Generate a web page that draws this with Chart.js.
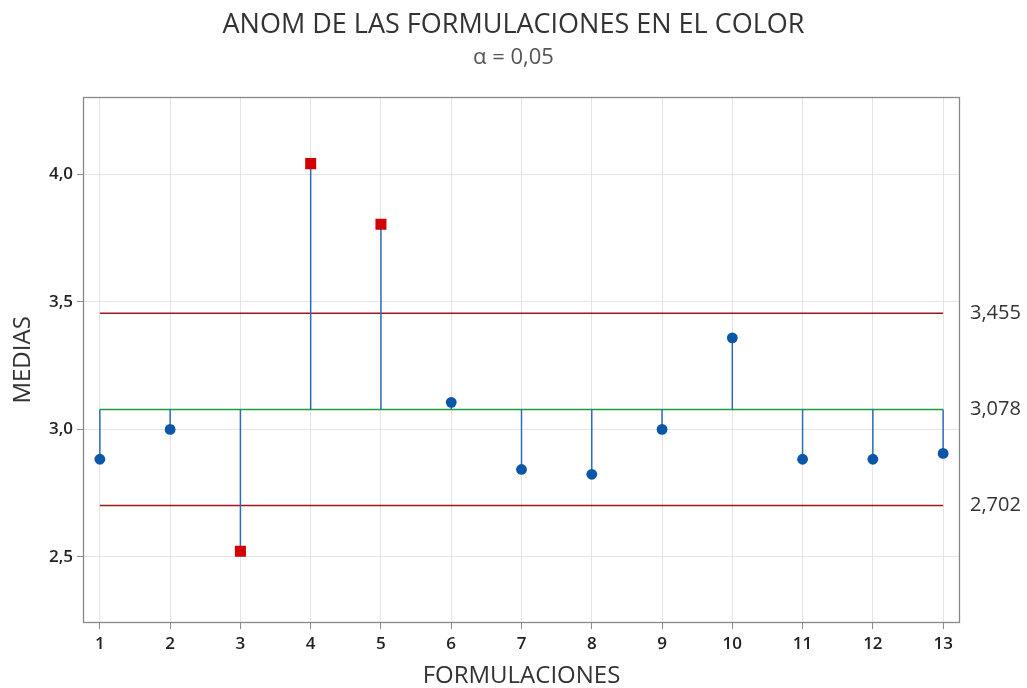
<!DOCTYPE html>
<html lang="es">
<head>
<meta charset="utf-8">
<title>ANOM de las formulaciones en el color</title>
<script src="https://cdn.jsdelivr.net/npm/chart.js@4/dist/chart.umd.min.js"></script>
<style>
  html, body { margin: 0; padding: 0; background: #ffffff; }
  #wrap { width: 1027px; height: 688px; }
</style>
</head>
<body>
<div id="wrap"><canvas id="anom" width="1027" height="688"></canvas></div>
<script>
// Formulaciones evaluadas y medias del color de cada una
const formulaciones = [1, 2, 3, 4, 5, 6, 7, 8, 9, 10, 11, 12, 13];
const medias = [2.883, 3.000, 2.522, 4.042, 3.804, 3.106, 2.843, 2.824, 3.000, 3.359, 2.883, 2.883, 2.906];

// Línea central y límites de decisión del ANOM (alfa = 0,05)
const lineaCentral = 3.078;
const limiteSuperior = 3.455;
const limiteInferior = 2.702;

// Marcas de los ejes
const ticksMedias = [2.5, 3.0, 3.5, 4.0];
const ticksLimites = [limiteInferior, lineaCentral, limiteSuperior];

const FONT = "'Open Sans', 'Noto Sans', sans-serif";
const coma = (v, d) => v.toFixed(d).replace('.', ',');

// Segmento horizontal de la primera a la última formulación
const tramo = (y) => [
  { x: formulaciones[0], y: y },
  { x: formulaciones[formulaciones.length - 1], y: y }
];

// Líneas verticales desde la línea central hasta cada media
const tallos = [];
formulaciones.forEach((f, i) => {
  tallos.push({ x: f, y: lineaCentral });
  tallos.push({ x: f, y: medias[i] });
  tallos.push({ x: f, y: null });
});

// Las medias fuera de los límites se marcan con un cuadrado rojo
const fuera = medias.map(m => m > limiteSuperior || m < limiteInferior);

// Marco completo del área de trazado
const marco = {
  id: 'marco',
  afterDraw(chart) {
    const { ctx, chartArea: a } = chart;
    const l = Math.round(a.left), t = Math.round(a.top);
    const r = Math.round(a.right), b = Math.round(a.bottom);
    ctx.save();
    ctx.strokeStyle = '#888888';
    ctx.lineWidth = 1.3;
    ctx.strokeRect(l + 0.5, t + 0.5, r - l - 1, b - t - 1);
    ctx.restore();
  }
};

const yMin = 2.241, yMax = 4.304;

new Chart(document.getElementById('anom'), {
  type: 'line',
  data: {
    datasets: [
      {
        label: 'Medias',
        data: formulaciones.map((f, i) => ({ x: f, y: medias[i] })),
        showLine: false,
        pointStyle: fuera.map(o => o ? 'rect' : 'circle'),
        pointRadius: fuera.map(o => o ? 7.8 : 5.4),
        pointBackgroundColor: fuera.map(o => o ? '#d40000' : '#0a56a8'),
        pointBorderColor: fuera.map(o => o ? '#d40000' : '#0a56a8'),
        pointBorderWidth: 0,
        order: 0
      },
      {
        label: 'Tallos',
        data: tallos,
        borderColor: '#2a6db6',
        borderWidth: 1.5,
        pointRadius: 0,
        spanGaps: false,
        order: 1
      },
      {
        label: 'Línea central',
        data: tramo(lineaCentral),
        borderColor: '#1f9a3a',
        borderWidth: 1.5,
        pointRadius: 0,
        order: 2
      },
      {
        label: 'Límite superior',
        data: tramo(limiteSuperior),
        borderColor: '#a01818',
        borderWidth: 1.5,
        pointRadius: 0,
        order: 3
      },
      {
        label: 'Límite inferior',
        data: tramo(limiteInferior),
        borderColor: '#a01818',
        borderWidth: 1.5,
        pointRadius: 0,
        order: 3
      }
    ]
  },
  options: {
    responsive: false,
    animation: false,
    layout: { padding: 0 },
    plugins: {
      legend: { display: false },
      tooltip: { enabled: false },
      title: {
        display: true,
        text: 'ANOM DE LAS FORMULACIONES EN EL COLOR',
        color: '#333333',
        font: { family: FONT, size: 27, weight: 'normal' },
        padding: { top: 9, bottom: 3 }
      },
      subtitle: {
        display: true,
        text: 'α = 0,05',
        color: '#555555',
        font: { family: FONT, size: 22, weight: 'normal' },
        padding: { top: 0, bottom: 26 }
      }
    },
    scales: {
      x: {
        type: 'linear',
        position: 'bottom',
        min: 0.76,
        max: 13.24,
        afterBuildTicks: (axis) => { axis.ticks = formulaciones.map(v => ({ value: v })); },
        afterFit: (axis) => { axis.height = 65; },
        ticks: {
          color: '#222222',
          font: { family: FONT, size: 17, weight: '600' },
          padding: 5,
          maxRotation: 0,
          callback: (v) => String(v)
        },
        grid: { color: '#e4e4e4', tickColor: '#8a8a8a', tickLength: 6, lineWidth: 1 },
        border: { display: false },
        title: {
          display: true,
          text: 'FORMULACIONES',
          color: '#333333',
          font: { family: FONT, size: 24, weight: 'normal', lineHeight: 1 },
          padding: { top: 0, bottom: 0 }
        }
      },
      y: {
        type: 'linear',
        position: 'left',
        min: yMin,
        max: yMax,
        afterBuildTicks: (axis) => { axis.ticks = ticksMedias.map(v => ({ value: v })); },
        afterFit: (axis) => { axis.width = 83; },
        ticks: {
          color: '#222222',
          font: { family: FONT, size: 17, weight: '600' },
          padding: 4,
          callback: (v) => coma(v, 1)
        },
        grid: { color: '#e4e4e4', tickColor: '#8a8a8a', tickLength: 6, lineWidth: 1 },
        border: { display: false },
        title: {
          display: true,
          text: 'MEDIAS',
          color: '#333333',
          font: { family: FONT, size: 24, weight: 'normal', lineHeight: 1 },
          padding: { top: 11, bottom: 0 }
        }
      },
      yLimites: {
        type: 'linear',
        position: 'right',
        min: yMin,
        max: yMax,
        afterBuildTicks: (axis) => { axis.ticks = ticksLimites.map(v => ({ value: v })); },
        afterFit: (axis) => { axis.width = 67; },
        ticks: {
          color: '#333333',
          font: { family: FONT, size: 20, weight: 'normal' },
          padding: 10,
          callback: (v) => coma(v, 3)
        },
        grid: { display: false, drawTicks: false },
        border: { display: false }
      }
    }
  },
  plugins: [marco]
});
</script>
</body>
</html>
